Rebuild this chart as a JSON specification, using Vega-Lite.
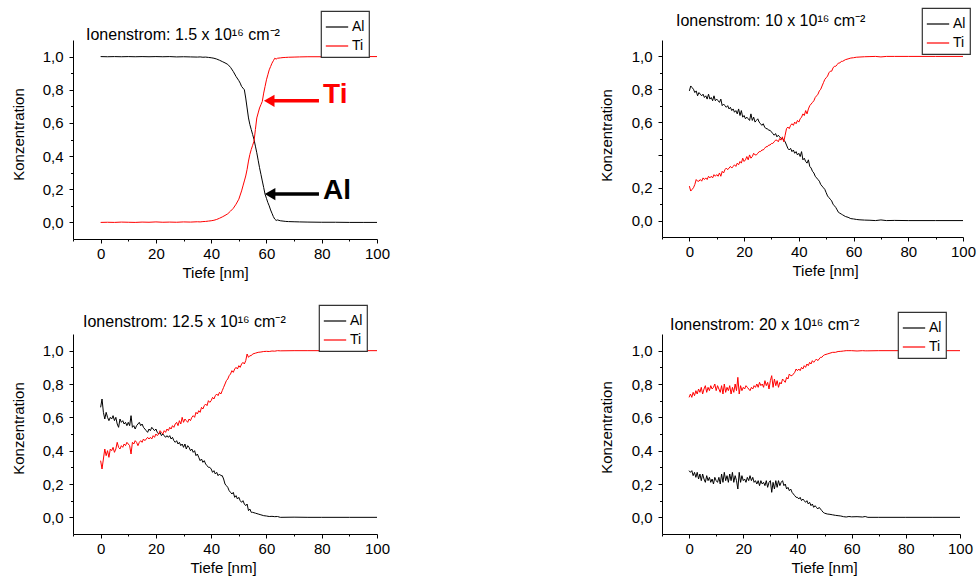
{
"$schema": "https://vega.github.io/schema/vega-lite/v6.json",
"padding": {"left": 11, "top": 7, "right": 5, "bottom": 5},
"background": "white",
"config": {
  "view": {"stroke": null},
  "font": "Liberation Sans",
  "axis": {"grid": false, "domainColor": "#000", "tickColor": "#000", "labelColor": "#000", "titleColor": "#000", "labelFont": "Liberation Sans", "titleFont": "Liberation Sans", "labelFontSize": 15, "titleFontSize": 15, "titleFontWeight": "normal", "domainWidth": 1, "tickWidth": 1, "labelOverlap": false},
  "legend": {"strokeColor": "#333", "fillColor": "#fff", "padding": 4, "symbolType": "stroke", "symbolSize": 500, "symbolStrokeWidth": 1.2, "labelFontSize": 14, "labelFont": "Liberation Sans", "labelColor": "#000", "rowPadding": -6, "labelOffset": 3, "cornerRadius": 0, "strokeWidth": 1.2},
  "title": {"font": "Liberation Sans", "fontSize": 16, "fontWeight": "normal", "color": "#000", "anchor": "start", "frame": "group", "baseline": "alphabetic"}
},
"datasets": {
"p1": [
{"x":0,"Al":1,"Ti":0},{"x":2.5,"Al":0.999,"Ti":0.001},{"x":5,"Al":1,"Ti":0},{"x":7.5,"Al":0.999,"Ti":0.002},{"x":10,"Al":1,"Ti":0.001},{"x":12.5,"Al":0.999,"Ti":0},{"x":15,"Al":1,"Ti":0.002},{"x":17.5,"Al":0.999,"Ti":0.001},{"x":20,"Al":1,"Ti":0.003},{"x":22.5,"Al":0.999,"Ti":0.001},{"x":25,"Al":1,"Ti":0.002},{"x":27.5,"Al":0.998,"Ti":0.001},{"x":30,"Al":0.999,"Ti":0.003},{"x":32.5,"Al":0.998,"Ti":0.002},{"x":35,"Al":0.997,"Ti":0.004},{"x":36,"Al":0.998,"Ti":0.003},{"x":37,"Al":0.996,"Ti":0.005},{"x":38,"Al":0.997,"Ti":0.006},{"x":39,"Al":0.995,"Ti":0.008},{"x":40,"Al":0.993,"Ti":0.01},{"x":41,"Al":0.99,"Ti":0.013},{"x":42,"Al":0.985,"Ti":0.018},{"x":43,"Al":0.978,"Ti":0.025},{"x":44,"Al":0.97,"Ti":0.033},{"x":45,"Al":0.962,"Ti":0.042},{"x":46,"Al":0.953,"Ti":0.052},{"x":47,"Al":0.935,"Ti":0.068},{"x":48,"Al":0.91,"Ti":0.085},{"x":49,"Al":0.88,"Ti":0.11},{"x":50,"Al":0.855,"Ti":0.14},{"x":50.5,"Al":0.84,"Ti":0.165},{"x":51,"Al":0.82,"Ti":0.19},{"x":51.5,"Al":0.81,"Ti":0.22},{"x":52,"Al":0.8,"Ti":0.25},{"x":52.5,"Al":0.75,"Ti":0.28},{"x":53,"Al":0.69,"Ti":0.32},{"x":53.5,"Al":0.63,"Ti":0.37},{"x":54,"Al":0.59,"Ti":0.41},{"x":54.5,"Al":0.56,"Ti":0.44},{"x":55,"Al":0.53,"Ti":0.465},{"x":55.5,"Al":0.5,"Ti":0.49},{"x":56,"Al":0.46,"Ti":0.56},{"x":56.5,"Al":0.42,"Ti":0.63},{"x":57,"Al":0.375,"Ti":0.66},{"x":57.5,"Al":0.33,"Ti":0.69},{"x":58,"Al":0.29,"Ti":0.71},{"x":58.5,"Al":0.25,"Ti":0.73},{"x":59,"Al":0.21,"Ti":0.78},{"x":59.5,"Al":0.17,"Ti":0.82},{"x":60,"Al":0.145,"Ti":0.86},{"x":60.5,"Al":0.12,"Ti":0.89},{"x":61,"Al":0.1,"Ti":0.92},{"x":61.5,"Al":0.075,"Ti":0.94},{"x":62,"Al":0.055,"Ti":0.96},{"x":62.5,"Al":0.035,"Ti":0.975},{"x":63,"Al":0.02,"Ti":0.99},{"x":63.5,"Al":0.012,"Ti":0.985},{"x":64,"Al":0.015,"Ti":0.99},{"x":65,"Al":0.01,"Ti":0.992},{"x":66,"Al":0.008,"Ti":0.994},{"x":67,"Al":0.006,"Ti":0.995},{"x":68,"Al":0.005,"Ti":0.996},{"x":70,"Al":0.004,"Ti":0.997},{"x":72,"Al":0.003,"Ti":0.998},{"x":75,"Al":0.002,"Ti":0.999},{"x":80,"Al":0.001,"Ti":0.999},{"x":85,"Al":0.001,"Ti":1},{"x":90,"Al":0,"Ti":1},{"x":95,"Al":0,"Ti":1},{"x":100,"Al":0,"Ti":1}
],
"p2": [
{"x":0,"Al":0.79,"Ti":0.21},{"x":0.5,"Al":0.82,"Ti":0.18},{"x":1,"Al":0.81,"Ti":0.19},{"x":1.5,"Al":0.8,"Ti":0.2},{"x":2,"Al":0.78,"Ti":0.22},{"x":2.5,"Al":0.79,"Ti":0.25},{"x":3,"Al":0.76,"Ti":0.24},{"x":3.5,"Al":0.78,"Ti":0.24},{"x":4,"Al":0.77,"Ti":0.25},{"x":4.5,"Al":0.76,"Ti":0.24},{"x":5,"Al":0.77,"Ti":0.26},{"x":5.5,"Al":0.75,"Ti":0.25},{"x":6,"Al":0.76,"Ti":0.26},{"x":6.5,"Al":0.74,"Ti":0.25},{"x":7,"Al":0.77,"Ti":0.27},{"x":7.5,"Al":0.74,"Ti":0.26},{"x":8,"Al":0.75,"Ti":0.27},{"x":8.5,"Al":0.73,"Ti":0.26},{"x":9,"Al":0.76,"Ti":0.28},{"x":9.5,"Al":0.73,"Ti":0.27},{"x":10,"Al":0.74,"Ti":0.28},{"x":10.5,"Al":0.73,"Ti":0.27},{"x":11,"Al":0.72,"Ti":0.29},{"x":11.5,"Al":0.74,"Ti":0.27},{"x":12,"Al":0.7,"Ti":0.3},{"x":12.5,"Al":0.71,"Ti":0.29},{"x":13,"Al":0.7,"Ti":0.31},{"x":13.5,"Al":0.69,"Ti":0.32},{"x":14,"Al":0.7,"Ti":0.31},{"x":14.5,"Al":0.68,"Ti":0.32},{"x":15,"Al":0.69,"Ti":0.33},{"x":15.5,"Al":0.67,"Ti":0.32},{"x":16,"Al":0.68,"Ti":0.33},{"x":16.5,"Al":0.66,"Ti":0.34},{"x":17,"Al":0.67,"Ti":0.33},{"x":17.5,"Al":0.65,"Ti":0.35},{"x":18,"Al":0.68,"Ti":0.34},{"x":18.5,"Al":0.64,"Ti":0.36},{"x":19,"Al":0.67,"Ti":0.35},{"x":19.5,"Al":0.63,"Ti":0.38},{"x":20,"Al":0.64,"Ti":0.36},{"x":20.5,"Al":0.62,"Ti":0.37},{"x":21,"Al":0.63,"Ti":0.39},{"x":21.5,"Al":0.62,"Ti":0.37},{"x":22,"Al":0.61,"Ti":0.4},{"x":22.5,"Al":0.65,"Ti":0.38},{"x":23,"Al":0.61,"Ti":0.39},{"x":23.5,"Al":0.63,"Ti":0.41},{"x":24,"Al":0.6,"Ti":0.4},{"x":24.5,"Al":0.61,"Ti":0.4},{"x":25,"Al":0.62,"Ti":0.41},{"x":25.5,"Al":0.6,"Ti":0.42},{"x":26,"Al":0.59,"Ti":0.42},{"x":26.5,"Al":0.58,"Ti":0.43},{"x":27,"Al":0.59,"Ti":0.43},{"x":27.5,"Al":0.57,"Ti":0.44},{"x":28,"Al":0.56,"Ti":0.45},{"x":28.5,"Al":0.56,"Ti":0.45},{"x":29,"Al":0.55,"Ti":0.46},{"x":29.5,"Al":0.55,"Ti":0.46},{"x":30,"Al":0.54,"Ti":0.47},{"x":30.5,"Al":0.53,"Ti":0.47},{"x":31,"Al":0.52,"Ti":0.48},{"x":31.5,"Al":0.53,"Ti":0.49},{"x":32,"Al":0.51,"Ti":0.49},{"x":32.5,"Al":0.52,"Ti":0.48},{"x":33,"Al":0.51,"Ti":0.5},{"x":33.5,"Al":0.5,"Ti":0.49},{"x":34,"Al":0.5,"Ti":0.51},{"x":34.5,"Al":0.49,"Ti":0.48},{"x":35,"Al":0.48,"Ti":0.52},{"x":35.5,"Al":0.46,"Ti":0.56},{"x":36,"Al":0.44,"Ti":0.57},{"x":36.5,"Al":0.43,"Ti":0.56},{"x":37,"Al":0.44,"Ti":0.58},{"x":37.5,"Al":0.42,"Ti":0.59},{"x":38,"Al":0.43,"Ti":0.58},{"x":38.5,"Al":0.41,"Ti":0.6},{"x":39,"Al":0.42,"Ti":0.59},{"x":39.5,"Al":0.4,"Ti":0.61},{"x":40,"Al":0.41,"Ti":0.6},{"x":40.5,"Al":0.39,"Ti":0.62},{"x":41,"Al":0.42,"Ti":0.63},{"x":41.5,"Al":0.37,"Ti":0.65},{"x":42,"Al":0.38,"Ti":0.64},{"x":42.5,"Al":0.36,"Ti":0.67},{"x":43,"Al":0.35,"Ti":0.65},{"x":43.5,"Al":0.37,"Ti":0.68},{"x":44,"Al":0.33,"Ti":0.7},{"x":44.5,"Al":0.32,"Ti":0.71},{"x":45,"Al":0.3,"Ti":0.72},{"x":45.5,"Al":0.29,"Ti":0.73},{"x":46,"Al":0.27,"Ti":0.75},{"x":46.5,"Al":0.26,"Ti":0.76},{"x":47,"Al":0.25,"Ti":0.77},{"x":47.5,"Al":0.24,"Ti":0.79},{"x":48,"Al":0.22,"Ti":0.8},{"x":48.5,"Al":0.21,"Ti":0.82},{"x":49,"Al":0.2,"Ti":0.84},{"x":49.5,"Al":0.19,"Ti":0.86},{"x":50,"Al":0.17,"Ti":0.87},{"x":50.5,"Al":0.15,"Ti":0.88},{"x":51,"Al":0.14,"Ti":0.9},{"x":51.5,"Al":0.13,"Ti":0.91},{"x":52,"Al":0.12,"Ti":0.91},{"x":52.5,"Al":0.1,"Ti":0.93},{"x":53,"Al":0.09,"Ti":0.94},{"x":53.5,"Al":0.08,"Ti":0.94},{"x":54,"Al":0.065,"Ti":0.95},{"x":54.5,"Al":0.05,"Ti":0.96},{"x":55,"Al":0.045,"Ti":0.96},{"x":55.5,"Al":0.04,"Ti":0.97},{"x":56,"Al":0.035,"Ti":0.97},{"x":57,"Al":0.025,"Ti":0.98},{"x":58,"Al":0.02,"Ti":0.985},{"x":59,"Al":0.012,"Ti":0.99},{"x":60,"Al":0.01,"Ti":0.992},{"x":61,"Al":0.007,"Ti":0.995},{"x":62,"Al":0.005,"Ti":0.996},{"x":64,"Al":0.003,"Ti":0.998},{"x":66,"Al":0.002,"Ti":0.999},{"x":68,"Al":0,"Ti":1},{"x":70,"Al":0.004,"Ti":0.997},{"x":72,"Al":0,"Ti":1},{"x":75,"Al":0.001,"Ti":1},{"x":80,"Al":0,"Ti":1},{"x":90,"Al":0,"Ti":1},{"x":100,"Al":0,"Ti":1}
],
"p3": [
{"x":0,"Al":0.66,"Ti":0.34},{"x":0.5,"Al":0.71,"Ti":0.29},{"x":1,"Al":0.63,"Ti":0.35},{"x":1.5,"Al":0.59,"Ti":0.41},{"x":2,"Al":0.63,"Ti":0.37},{"x":2.5,"Al":0.6,"Ti":0.4},{"x":3,"Al":0.58,"Ti":0.36},{"x":3.5,"Al":0.6,"Ti":0.41},{"x":4,"Al":0.59,"Ti":0.4},{"x":4.5,"Al":0.61,"Ti":0.42},{"x":5,"Al":0.58,"Ti":0.39},{"x":5.5,"Al":0.6,"Ti":0.41},{"x":6,"Al":0.56,"Ti":0.45},{"x":6.5,"Al":0.54,"Ti":0.42},{"x":7,"Al":0.59,"Ti":0.41},{"x":7.5,"Al":0.57,"Ti":0.43},{"x":8,"Al":0.58,"Ti":0.42},{"x":8.5,"Al":0.56,"Ti":0.44},{"x":9,"Al":0.57,"Ti":0.43},{"x":9.5,"Al":0.55,"Ti":0.45},{"x":10,"Al":0.57,"Ti":0.44},{"x":10.5,"Al":0.55,"Ti":0.43},{"x":11,"Al":0.61,"Ti":0.38},{"x":11.5,"Al":0.54,"Ti":0.45},{"x":12,"Al":0.55,"Ti":0.44},{"x":12.5,"Al":0.53,"Ti":0.46},{"x":13,"Al":0.55,"Ti":0.45},{"x":13.5,"Al":0.56,"Ti":0.43},{"x":14,"Al":0.57,"Ti":0.45},{"x":14.5,"Al":0.55,"Ti":0.46},{"x":15,"Al":0.56,"Ti":0.45},{"x":15.5,"Al":0.54,"Ti":0.47},{"x":16,"Al":0.53,"Ti":0.46},{"x":16.5,"Al":0.52,"Ti":0.47},{"x":17,"Al":0.51,"Ti":0.48},{"x":17.5,"Al":0.53,"Ti":0.47},{"x":18,"Al":0.52,"Ti":0.48},{"x":18.5,"Al":0.54,"Ti":0.47},{"x":19,"Al":0.53,"Ti":0.49},{"x":19.5,"Al":0.52,"Ti":0.48},{"x":20,"Al":0.53,"Ti":0.5},{"x":20.5,"Al":0.51,"Ti":0.49},{"x":21,"Al":0.5,"Ti":0.5},{"x":21.5,"Al":0.51,"Ti":0.52},{"x":22,"Al":0.49,"Ti":0.51},{"x":22.5,"Al":0.5,"Ti":0.5},{"x":23,"Al":0.49,"Ti":0.52},{"x":23.5,"Al":0.48,"Ti":0.51},{"x":24,"Al":0.49,"Ti":0.53},{"x":24.5,"Al":0.48,"Ti":0.52},{"x":25,"Al":0.49,"Ti":0.54},{"x":25.5,"Al":0.47,"Ti":0.53},{"x":26,"Al":0.48,"Ti":0.55},{"x":26.5,"Al":0.46,"Ti":0.54},{"x":27,"Al":0.45,"Ti":0.56},{"x":27.5,"Al":0.46,"Ti":0.57},{"x":28,"Al":0.44,"Ti":0.55},{"x":28.5,"Al":0.45,"Ti":0.58},{"x":29,"Al":0.43,"Ti":0.56},{"x":29.5,"Al":0.44,"Ti":0.6},{"x":30,"Al":0.42,"Ti":0.57},{"x":30.5,"Al":0.44,"Ti":0.59},{"x":31,"Al":0.41,"Ti":0.58},{"x":31.5,"Al":0.43,"Ti":0.57},{"x":32,"Al":0.42,"Ti":0.59},{"x":32.5,"Al":0.4,"Ti":0.58},{"x":33,"Al":0.41,"Ti":0.6},{"x":33.5,"Al":0.39,"Ti":0.61},{"x":34,"Al":0.4,"Ti":0.6},{"x":34.5,"Al":0.37,"Ti":0.63},{"x":35,"Al":0.38,"Ti":0.62},{"x":35.5,"Al":0.36,"Ti":0.64},{"x":36,"Al":0.34,"Ti":0.63},{"x":36.5,"Al":0.35,"Ti":0.66},{"x":37,"Al":0.33,"Ti":0.65},{"x":37.5,"Al":0.34,"Ti":0.67},{"x":38,"Al":0.32,"Ti":0.68},{"x":38.5,"Al":0.31,"Ti":0.67},{"x":39,"Al":0.3,"Ti":0.7},{"x":39.5,"Al":0.3,"Ti":0.69},{"x":40,"Al":0.29,"Ti":0.7},{"x":40.5,"Al":0.27,"Ti":0.72},{"x":41,"Al":0.28,"Ti":0.71},{"x":41.5,"Al":0.26,"Ti":0.73},{"x":42,"Al":0.27,"Ti":0.74},{"x":42.5,"Al":0.25,"Ti":0.73},{"x":43,"Al":0.26,"Ti":0.75},{"x":43.5,"Al":0.25,"Ti":0.74},{"x":44,"Al":0.25,"Ti":0.76},{"x":44.5,"Al":0.23,"Ti":0.78},{"x":45,"Al":0.2,"Ti":0.8},{"x":45.5,"Al":0.19,"Ti":0.82},{"x":46,"Al":0.18,"Ti":0.83},{"x":46.5,"Al":0.16,"Ti":0.85},{"x":47,"Al":0.15,"Ti":0.86},{"x":47.5,"Al":0.14,"Ti":0.88},{"x":48,"Al":0.15,"Ti":0.87},{"x":48.5,"Al":0.12,"Ti":0.89},{"x":49,"Al":0.13,"Ti":0.9},{"x":49.5,"Al":0.11,"Ti":0.89},{"x":50,"Al":0.12,"Ti":0.91},{"x":50.5,"Al":0.1,"Ti":0.9},{"x":51,"Al":0.09,"Ti":0.92},{"x":51.5,"Al":0.1,"Ti":0.93},{"x":52,"Al":0.08,"Ti":0.92},{"x":52.5,"Al":0.07,"Ti":0.94},{"x":53,"Al":0.08,"Ti":0.98},{"x":53.5,"Al":0.04,"Ti":0.96},{"x":54,"Al":0.05,"Ti":0.97},{"x":54.5,"Al":0.03,"Ti":0.97},{"x":55,"Al":0.03,"Ti":0.98},{"x":56,"Al":0.025,"Ti":0.985},{"x":57,"Al":0.02,"Ti":0.99},{"x":58,"Al":0.015,"Ti":0.992},{"x":59,"Al":0.01,"Ti":0.995},{"x":60,"Al":0.008,"Ti":0.996},{"x":61,"Al":0.005,"Ti":0.995},{"x":62,"Al":0.006,"Ti":0.998},{"x":63,"Al":0.004,"Ti":0.997},{"x":64,"Al":0.005,"Ti":1},{"x":65,"Al":0,"Ti":0.999},{"x":70,"Al":0.001,"Ti":1},{"x":75,"Al":0,"Ti":1},{"x":80,"Al":0,"Ti":1},{"x":90,"Al":0,"Ti":1},{"x":100,"Al":0,"Ti":1}
],
"p4": [
{"x":0,"Al":0.28,"Ti":0.72},{"x":0.5,"Al":0.27,"Ti":0.74},{"x":1,"Al":0.28,"Ti":0.72},{"x":1.5,"Al":0.25,"Ti":0.75},{"x":2,"Al":0.27,"Ti":0.73},{"x":2.5,"Al":0.24,"Ti":0.76},{"x":3,"Al":0.27,"Ti":0.74},{"x":3.5,"Al":0.23,"Ti":0.77},{"x":4,"Al":0.26,"Ti":0.75},{"x":4.5,"Al":0.22,"Ti":0.78},{"x":5,"Al":0.26,"Ti":0.74},{"x":5.5,"Al":0.23,"Ti":0.77},{"x":6,"Al":0.21,"Ti":0.79},{"x":6.5,"Al":0.25,"Ti":0.75},{"x":7,"Al":0.22,"Ti":0.78},{"x":7.5,"Al":0.24,"Ti":0.76},{"x":8,"Al":0.21,"Ti":0.79},{"x":8.5,"Al":0.23,"Ti":0.77},{"x":9,"Al":0.2,"Ti":0.78},{"x":9.5,"Al":0.24,"Ti":0.8},{"x":10,"Al":0.22,"Ti":0.76},{"x":10.5,"Al":0.21,"Ti":0.79},{"x":11,"Al":0.24,"Ti":0.77},{"x":11.5,"Al":0.2,"Ti":0.75},{"x":12,"Al":0.26,"Ti":0.79},{"x":12.5,"Al":0.21,"Ti":0.74},{"x":13,"Al":0.27,"Ti":0.8},{"x":13.5,"Al":0.22,"Ti":0.75},{"x":14,"Al":0.25,"Ti":0.78},{"x":14.5,"Al":0.21,"Ti":0.76},{"x":15,"Al":0.26,"Ti":0.79},{"x":15.5,"Al":0.22,"Ti":0.74},{"x":16,"Al":0.27,"Ti":0.78},{"x":16.5,"Al":0.21,"Ti":0.75},{"x":17,"Al":0.25,"Ti":0.8},{"x":17.5,"Al":0.22,"Ti":0.76},{"x":18,"Al":0.17,"Ti":0.84},{"x":18.5,"Al":0.27,"Ti":0.74},{"x":19,"Al":0.21,"Ti":0.79},{"x":19.5,"Al":0.25,"Ti":0.76},{"x":20,"Al":0.22,"Ti":0.78},{"x":20.5,"Al":0.23,"Ti":0.77},{"x":21,"Al":0.21,"Ti":0.79},{"x":21.5,"Al":0.24,"Ti":0.78},{"x":22,"Al":0.22,"Ti":0.77},{"x":22.5,"Al":0.25,"Ti":0.76},{"x":23,"Al":0.22,"Ti":0.78},{"x":23.5,"Al":0.24,"Ti":0.77},{"x":24,"Al":0.21,"Ti":0.79},{"x":24.5,"Al":0.22,"Ti":0.78},{"x":25,"Al":0.2,"Ti":0.8},{"x":25.5,"Al":0.22,"Ti":0.78},{"x":26,"Al":0.19,"Ti":0.81},{"x":26.5,"Al":0.22,"Ti":0.79},{"x":27,"Al":0.2,"Ti":0.8},{"x":27.5,"Al":0.21,"Ti":0.78},{"x":28,"Al":0.19,"Ti":0.82},{"x":28.5,"Al":0.22,"Ti":0.79},{"x":29,"Al":0.18,"Ti":0.81},{"x":29.5,"Al":0.21,"Ti":0.77},{"x":30,"Al":0.22,"Ti":0.82},{"x":30.5,"Al":0.15,"Ti":0.85},{"x":31,"Al":0.21,"Ti":0.78},{"x":31.5,"Al":0.17,"Ti":0.83},{"x":32,"Al":0.22,"Ti":0.79},{"x":32.5,"Al":0.18,"Ti":0.82},{"x":33,"Al":0.22,"Ti":0.78},{"x":33.5,"Al":0.19,"Ti":0.81},{"x":34,"Al":0.21,"Ti":0.8},{"x":34.5,"Al":0.22,"Ti":0.83},{"x":35,"Al":0.19,"Ti":0.82},{"x":35.5,"Al":0.2,"Ti":0.81},{"x":36,"Al":0.17,"Ti":0.84},{"x":36.5,"Al":0.18,"Ti":0.83},{"x":37,"Al":0.16,"Ti":0.86},{"x":37.5,"Al":0.17,"Ti":0.85},{"x":38,"Al":0.15,"Ti":0.85},{"x":38.5,"Al":0.14,"Ti":0.86},{"x":39,"Al":0.13,"Ti":0.87},{"x":39.5,"Al":0.12,"Ti":0.89},{"x":40,"Al":0.12,"Ti":0.88},{"x":40.5,"Al":0.11,"Ti":0.89},{"x":41,"Al":0.12,"Ti":0.88},{"x":41.5,"Al":0.1,"Ti":0.9},{"x":42,"Al":0.11,"Ti":0.89},{"x":42.5,"Al":0.1,"Ti":0.91},{"x":43,"Al":0.09,"Ti":0.9},{"x":43.5,"Al":0.1,"Ti":0.92},{"x":44,"Al":0.08,"Ti":0.91},{"x":44.5,"Al":0.09,"Ti":0.93},{"x":45,"Al":0.07,"Ti":0.92},{"x":45.5,"Al":0.08,"Ti":0.94},{"x":46,"Al":0.06,"Ti":0.93},{"x":46.5,"Al":0.07,"Ti":0.94},{"x":47,"Al":0.06,"Ti":0.95},{"x":47.5,"Al":0.05,"Ti":0.94},{"x":48,"Al":0.06,"Ti":0.95},{"x":48.5,"Al":0.05,"Ti":0.96},{"x":49,"Al":0.04,"Ti":0.96},{"x":49.5,"Al":0.03,"Ti":0.97},{"x":50,"Al":0.025,"Ti":0.975},{"x":51,"Al":0.02,"Ti":0.98},{"x":52,"Al":0.018,"Ti":0.985},{"x":53,"Al":0.015,"Ti":0.99},{"x":54,"Al":0.012,"Ti":0.99},{"x":55,"Al":0.01,"Ti":0.995},{"x":56,"Al":0.008,"Ti":0.996},{"x":57,"Al":0.004,"Ti":0.998},{"x":58,"Al":0.002,"Ti":1},{"x":59,"Al":0.005,"Ti":1},{"x":60,"Al":0.003,"Ti":1},{"x":62,"Al":0.004,"Ti":0.998},{"x":64,"Al":0.002,"Ti":1},{"x":65,"Al":0.005,"Ti":0.999},{"x":66,"Al":0,"Ti":0.999},{"x":70,"Al":0,"Ti":1},{"x":80,"Al":0,"Ti":1},{"x":90,"Al":0,"Ti":1},{"x":100,"Al":0,"Ti":1}
],
"arrows": [
{"lbl":"Ti","x":61,"xe":79,"c":0.733},
{"lbl":"Al","x":61.3,"xe":79,"c":0.171}
],
"labels": [
{"lbl":"Ti","x":80.5,"c":0.723},
{"lbl":"Al","x":80.5,"c":0.141}
]
},
"columns": 2,
"bounds": "flush",
"align": "each",
"spacing": {"row": 95, "column": 285},
"resolve": {"scale": {"color": "independent", "x": "independent", "y": "independent"}},
"concat": [
{
"width": 304, "height": 199,
"title": {"text": "Ionenstrom: 1.5 x 10¹⁶ cm⁻²", "dx": 13, "offset": -33},
"encoding": {
  "x": {"field": "x", "type": "quantitative", "scale": {"domain": [-10,100], "nice": false, "zero": false}, "axis": {"title": "Tiefe [nm]", "values": [-10,0,10,20,30,40,50,60,70,80,90,100], "labelExpr": "datum.value >= 0 && datum.value % 20 == 0 ? datum.value : ''", "tickSize": {"condition": {"test": "datum.value % 20 != 0", "value": 2}, "value": 4}, "labelPadding": 3, "titlePadding": 4, "titleX": 142, "labelFlush": false, "labelOverlap": false}},
  "y": {"field": "c", "type": "quantitative", "scale": {"domain": [-0.1,1.1], "nice": false, "zero": false}, "axis": {"title": "Konzentration", "values": [0,0.1,0.2,0.3,0.4,0.5,0.6,0.7,0.8,0.9,1.0], "labelExpr": "round(datum.value*10) % 2 == 0 ? replace(format(datum.value, '.1f'), '.', ',') : ''", "tickSize": {"condition": {"test": "round(datum.value*10) % 2 != 0", "value": 2.5}, "value": 4}, "labelPadding": 6, "titlePadding": 16, "titleY": 94, "labelOverlap": false}}
},
"layer": [
{"data": {"name": "p1"}, "transform": [{"fold": ["Al","Ti"], "as": ["key","c"]}],
 "mark": {"type": "line", "strokeWidth": 1},
 "encoding": {
  "color": {"field": "key", "type": "nominal", "scale": {"domain": ["Al","Ti"], "range": ["#000000","#ff0000"]}, "legend": {"orient": "none", "legendX": 248, "legendY": -29, "title": null}}
 }},
{"data": {"name": "arrows"}, "mark": {"type": "rule", "strokeWidth": 3.5},
 "encoding": {"x2": {"field": "xe"},
  "color": {"condition": {"test": "datum.lbl == 'Ti'", "value": "#ff0000"}, "value": "#000000"}}},
{"data": {"name": "arrows"}, "mark": {"type": "point", "shape": "triangle-left", "filled": true, "size": 150, "opacity": 1},
 "encoding": {
  "color": {"condition": {"test": "datum.lbl == 'Ti'", "value": "#ff0000"}, "value": "#000000"}}},
{"data": {"name": "labels"}, "mark": {"type": "text", "align": "left", "baseline": "alphabetic", "fontSize": 28, "fontWeight": "bold", "font": "Liberation Sans"},
 "encoding": {"text": {"field": "lbl"},
  "color": {"condition": {"test": "datum.lbl == 'Ti'", "value": "#ff0000"}, "value": "#000000"}}}
]
},
{
"width": 301, "height": 197,
"title": {"text": "Ionenstrom: 10 x 10¹⁶ cm⁻²", "dx": 14, "offset": -22},
"layer": [
{"data": {"name": "p2"}, "transform": [{"fold": ["Al","Ti"], "as": ["key","c"]}],
 "mark": {"type": "line", "strokeWidth": 1},
 "encoding": {
  "x": {"field": "x", "type": "quantitative", "scale": {"domain": [-10,100], "nice": false, "zero": false}, "axis": {"title": "Tiefe [nm]", "values": [-10,0,10,20,30,40,50,60,70,80,90,100], "labelExpr": "datum.value >= 0 && datum.value % 20 == 0 ? datum.value : ''", "tickSize": {"condition": {"test": "datum.value % 20 != 0", "value": 2}, "value": 4}, "labelPadding": 3, "titlePadding": 4, "titleX": 163, "labelFlush": false, "labelOverlap": false}},
  "y": {"field": "c", "type": "quantitative", "scale": {"domain": [-0.1,1.1], "nice": false, "zero": false}, "axis": {"title": "Konzentration", "values": [0,0.1,0.2,0.3,0.4,0.5,0.6,0.7,0.8,0.9,1.0], "labelExpr": "round(datum.value*10) % 2 == 0 && round(datum.value*10) != 4 ? replace(format(datum.value, '.1f'), '.', ',') : ''", "tickSize": {"condition": {"test": "round(datum.value*10) % 2 != 0", "value": 2.5}, "value": 4}, "labelPadding": 6, "titlePadding": 17, "titleY": 95, "labelOverlap": false}},
  "color": {"field": "key", "type": "nominal", "scale": {"domain": ["Al","Ti"], "range": ["#000000","#ff0000"]}, "legend": {"orient": "none", "legendX": 260, "legendY": -32, "title": null}}
 }}
]
},
{
"width": 304, "height": 200,
"title": {"text": "Ionenstrom: 12.5 x 10¹⁶ cm⁻²", "dx": 10, "offset": -25.7},
"layer": [
{"data": {"name": "p3"}, "transform": [{"fold": ["Al","Ti"], "as": ["key","c"]}],
 "mark": {"type": "line", "strokeWidth": 1},
 "encoding": {
  "x": {"field": "x", "type": "quantitative", "scale": {"domain": [-10,100], "nice": false, "zero": false}, "axis": {"title": "Tiefe [nm]", "values": [-10,0,10,20,30,40,50,60,70,80,90,100], "labelExpr": "datum.value >= 0 && datum.value % 20 == 0 ? datum.value : ''", "tickSize": {"condition": {"test": "datum.value % 20 != 0", "value": 2}, "value": 4}, "labelPadding": 3, "titlePadding": 4, "titleX": 150, "labelFlush": false, "labelOverlap": false}},
  "y": {"field": "c", "type": "quantitative", "scale": {"domain": [-0.1,1.1], "nice": false, "zero": false}, "axis": {"title": "Konzentration", "values": [0,0.1,0.2,0.3,0.4,0.5,0.6,0.7,0.8,0.9,1.0], "labelExpr": "round(datum.value*10) % 2 == 0 ? replace(format(datum.value, '.1f'), '.', ',') : ''", "tickSize": {"condition": {"test": "round(datum.value*10) % 2 != 0", "value": 2.5}, "value": 4}, "labelPadding": 6, "titlePadding": 16, "titleY": 94, "labelOverlap": false}},
  "color": {"field": "key", "type": "nominal", "scale": {"domain": ["Al","Ti"], "range": ["#000000","#ff0000"]}, "legend": {"orient": "none", "legendX": 246, "legendY": -29, "title": null}}
 }}
]
},
{
"width": 298, "height": 200,
"title": {"text": "Ionenstrom: 20 x 10¹⁶ cm⁻²", "dx": 8, "offset": -21.3},
"layer": [
{"data": {"name": "p4"}, "transform": [{"fold": ["Al","Ti"], "as": ["key","c"]}],
 "mark": {"type": "line", "strokeWidth": 1},
 "encoding": {
  "x": {"field": "x", "type": "quantitative", "scale": {"domain": [-10,100], "nice": false, "zero": false}, "axis": {"title": "Tiefe [nm]", "values": [-10,0,10,20,30,40,50,60,70,80,90,100], "labelExpr": "datum.value >= 0 && datum.value % 20 == 0 ? datum.value : ''", "tickSize": {"condition": {"test": "datum.value % 20 != 0", "value": 2}, "value": 4}, "labelPadding": 3, "titlePadding": 4, "titleX": 162, "labelFlush": false, "labelOverlap": false}},
  "y": {"field": "c", "type": "quantitative", "scale": {"domain": [-0.1,1.1], "nice": false, "zero": false}, "axis": {"title": "Konzentration", "values": [0,0.1,0.2,0.3,0.4,0.5,0.6,0.7,0.8,0.9,1.0], "labelExpr": "round(datum.value*10) % 2 == 0 ? replace(format(datum.value, '.1f'), '.', ',') : ''", "tickSize": {"condition": {"test": "round(datum.value*10) % 2 != 0", "value": 2.5}, "value": 4}, "labelPadding": 6, "titlePadding": 17, "titleY": 93, "labelOverlap": false}},
  "color": {"field": "key", "type": "nominal", "scale": {"domain": ["Al","Ti"], "range": ["#000000","#ff0000"]}, "legend": {"orient": "none", "legendX": 236, "legendY": -22, "title": null}}
 }}
]
}
]
}
